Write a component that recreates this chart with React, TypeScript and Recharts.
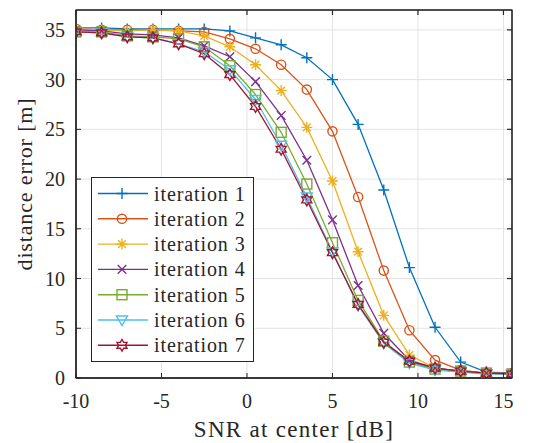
import { LineChart, Line, XAxis, YAxis, CartesianGrid, Legend, Label, ReferenceArea } from 'recharts'

const snr = [-10, -8.5, -7, -5.5, -4, -2.5, -1, 0.5, 2, 3.5, 5, 6.5, 8, 9.5, 11, 12.5, 14, 15.5]
const iter1 = [35.2, 35.2, 35.1, 35.1, 35.1, 35.1, 34.9, 34.2, 33.5, 32.2, 30.0, 25.5, 18.9, 11.1, 5.1, 1.6, 0.6, 0.5]
const iter2 = [35.1, 35.0, 35.0, 35.0, 34.9, 34.8, 34.1, 33.1, 31.5, 29.0, 24.8, 18.2, 10.8, 4.8, 1.8, 0.8, 0.5, 0.5]
const iter3 = [35.1, 35.0, 34.9, 35.0, 34.9, 34.4, 33.3, 31.5, 28.9, 25.2, 19.8, 12.7, 6.3, 2.3, 1.0, 0.7, 0.5, 0.5]
const iter4 = [35.0, 34.9, 34.6, 34.5, 34.2, 33.4, 32.3, 29.8, 26.4, 21.9, 15.9, 9.3, 4.5, 1.8, 1.0, 0.7, 0.5, 0.5]
const iter5 = [34.8, 34.8, 34.4, 34.3, 34.1, 33.3, 31.4, 28.5, 24.7, 19.5, 13.6, 7.8, 3.7, 1.6, 0.9, 0.7, 0.5, 0.4]
const iter6 = [34.8, 34.7, 34.3, 34.2, 33.6, 32.8, 31.0, 28.0, 23.4, 18.2, 12.7, 7.3, 3.5, 1.5, 0.8, 0.6, 0.4, 0.4]
const iter7 = [34.8, 34.7, 34.3, 34.2, 33.6, 32.6, 30.5, 27.3, 23.0, 17.9, 12.6, 7.4, 3.6, 1.7, 1.0, 0.7, 0.5, 0.4]

const xTicks = [-10, -5, 0, 5, 10, 15]
const yTicks = [0, 5, 10, 15, 20, 25, 30, 35]
const X_MIN = -10, X_MAX = 15.5, Y_MIN = 0, Y_MAX = 37

const series = [
  { key: 'it1', name: 'iteration 1', color: '#0072BD', marker: 'plus', values: iter1 },
  { key: 'it2', name: 'iteration 2', color: '#D95319', marker: 'circle', values: iter2 },
  { key: 'it3', name: 'iteration 3', color: '#EDB120', marker: 'star', values: iter3 },
  { key: 'it4', name: 'iteration 4', color: '#7E2F8E', marker: 'cross', values: iter4 },
  { key: 'it5', name: 'iteration 5', color: '#77AC30', marker: 'square', values: iter5 },
  { key: 'it6', name: 'iteration 6', color: '#4DBEEE', marker: 'tri', values: iter6 },
  { key: 'it7', name: 'iteration 7', color: '#A2142F', marker: 'hex', values: iter7 },
]

const data = snr.map((x, i) => {
  const row: any = { x }
  series.forEach(s => { row[s.key] = s.values[i] })
  return row
})

const W = 546, H = 443
const M = { top: 10, right: 34, bottom: 0, left: 0 }
const Y_AXIS_W = 76, X_AXIS_H = 65
const INK = '#262626'

function Marker({ kind, cx, cy, color }: any) {
  if (cx == null || cy == null) return null
  const sw = 1.4
  const common = { stroke: color, strokeWidth: sw, fill: 'none' }
  if (kind === 'plus') {
    const r = 5.5
    return <path d={`M${cx - r} ${cy}H${cx + r}M${cx} ${cy - r}V${cy + r}`} {...common} />
  }
  if (kind === 'circle') return <circle cx={cx} cy={cy} r={4.6} {...common} />
  if (kind === 'star') {
    const r = 5.5, d = r * 0.707
    return <path d={`M${cx - r} ${cy}H${cx + r}M${cx} ${cy - r}V${cy + r}M${cx - d} ${cy - d}L${cx + d} ${cy + d}M${cx - d} ${cy + d}L${cx + d} ${cy - d}`} {...common} />
  }
  if (kind === 'cross') {
    const d = 4.3
    return <path d={`M${cx - d} ${cy - d}L${cx + d} ${cy + d}M${cx - d} ${cy + d}L${cx + d} ${cy - d}`} {...common} />
  }
  if (kind === 'square') return <rect x={cx - 5} y={cy - 5} width={10} height={10} {...common} />
  if (kind === 'tri') return <path d={`M${cx - 5.5} ${cy - 4}L${cx + 5.5} ${cy - 4}L${cx} ${cy + 5.5}Z`} {...common} />
  // hexagram
  const R = 5.8, r = R / Math.sqrt(3)
  const pts: string[] = []
  for (let k = 0; k < 12; k++) {
    const a = -Math.PI / 2 + (k * Math.PI) / 6
    const rr = k % 2 === 0 ? R : r
    pts.push(`${(cx + rr * Math.cos(a)).toFixed(2)},${(cy + rr * Math.sin(a)).toFixed(2)}`)
  }
  return <polygon points={pts.join(' ')} {...common} />
}

function LegendBox() {
  const rowY = (i: number) => 16.5 + i * 25.3
  return (
    <svg width={163} height={185} style={{ display: 'block' }}>
      <rect x={0.5} y={0.5} width={162} height={184} fill="#fff" stroke={INK} strokeWidth={1} />
      {series.map((s, i) => (
        <g key={s.key}>
          <line x1={7} x2={57} y1={rowY(i)} y2={rowY(i)} stroke={s.color} strokeWidth={1.4} />
          <Marker kind={s.marker} cx={31} cy={rowY(i)} color={s.color} />
          <text x={63} y={rowY(i) + 7} fontSize={20} fill={INK} letterSpacing={0.9}>{s.name}</text>
        </g>
      ))}
    </svg>
  )
}

// inward ticks on the top and right edges of the plot box
function Frame() {
  const left = M.left + Y_AXIS_W
  const top = M.top
  const pw = W - left - M.right
  const ph = H - top - M.bottom - X_AXIS_H
  const sx = (v: number) => left + ((v - X_MIN) / (X_MAX - X_MIN)) * pw
  const sy = (v: number) => top + ph - ((v - Y_MIN) / (Y_MAX - Y_MIN)) * ph
  return (
    <svg width={W} height={H} style={{ position: 'absolute', left: 0, top: 0, pointerEvents: 'none', zIndex: 5 }}>
      <rect x={left} y={top} width={pw} height={ph} fill="none" stroke={INK} strokeWidth={1.2} />
      {xTicks.map(t => <line key={`x${t}`} x1={sx(t)} x2={sx(t)} y1={top} y2={top + 5} stroke={INK} strokeWidth={1.2} />)}
      {yTicks.map(t => <line key={`y${t}`} x1={left + pw - 5} x2={left + pw} y1={sy(t)} y2={sy(t)} stroke={INK} strokeWidth={1.2} />)}
    </svg>
  )
}

export default function App() {
  return (
    <div style={{ position: 'absolute', left: 0, top: 0, width: W, height: H, background: '#fff' }}>
      <LineChart width={W} height={H} data={data} margin={M}>
        <CartesianGrid stroke="#e3e3e3" strokeWidth={1} />
        <XAxis
          dataKey="x" type="number" domain={[X_MIN, X_MAX]} ticks={xTicks} allowDataOverflow
          height={X_AXIS_H} stroke={INK} tickSize={-5} tickMargin={21}
          tick={{ fill: INK, fontSize: 20 }}
        >
          <Label
            content={() => (
              <text x={294} y={437} textAnchor="middle" fontSize={23} fill={INK} letterSpacing={1.3}>
                SNR at center [dB]
              </text>
            )}
          />
        </XAxis>
        <YAxis
          type="number" domain={[Y_MIN, Y_MAX]} ticks={yTicks} allowDataOverflow width={Y_AXIS_W}
          stroke={INK} tickSize={-5} tickMargin={16}
          tick={{ fill: INK, fontSize: 20 }}
        >
          <Label
            content={() => (
              <text x={0} y={0} transform="translate(32 184) rotate(-90)" textAnchor="middle" fontSize={22} fill={INK} letterSpacing={0.85}>
                distance error [m]
              </text>
            )}
          />
        </YAxis>
        <ReferenceArea x1={X_MIN} x2={X_MAX} y1={Y_MIN} y2={Y_MAX} fill="none" stroke={INK} strokeWidth={1} />
        {series.map(s => (
          <Line
            key={s.key}
            dataKey={s.key}
            name={s.name}
            stroke={s.color}
            strokeWidth={1.3}
            isAnimationActive={false}
            activeDot={false}
            dot={(p: any) => <Marker key={`${s.key}-${p.index}`} kind={s.marker} cx={p.cx} cy={p.cy} color={s.color} />}
          />
        ))}
        <Legend
          layout="vertical" align="center" verticalAlign="middle"
          wrapperStyle={{ left: 91, top: 177, bottom: 'auto', right: 'auto', width: 163, height: 185 }}
          content={() => <LegendBox />}
        />
      </LineChart>
      <Frame />
    </div>
  )
}
